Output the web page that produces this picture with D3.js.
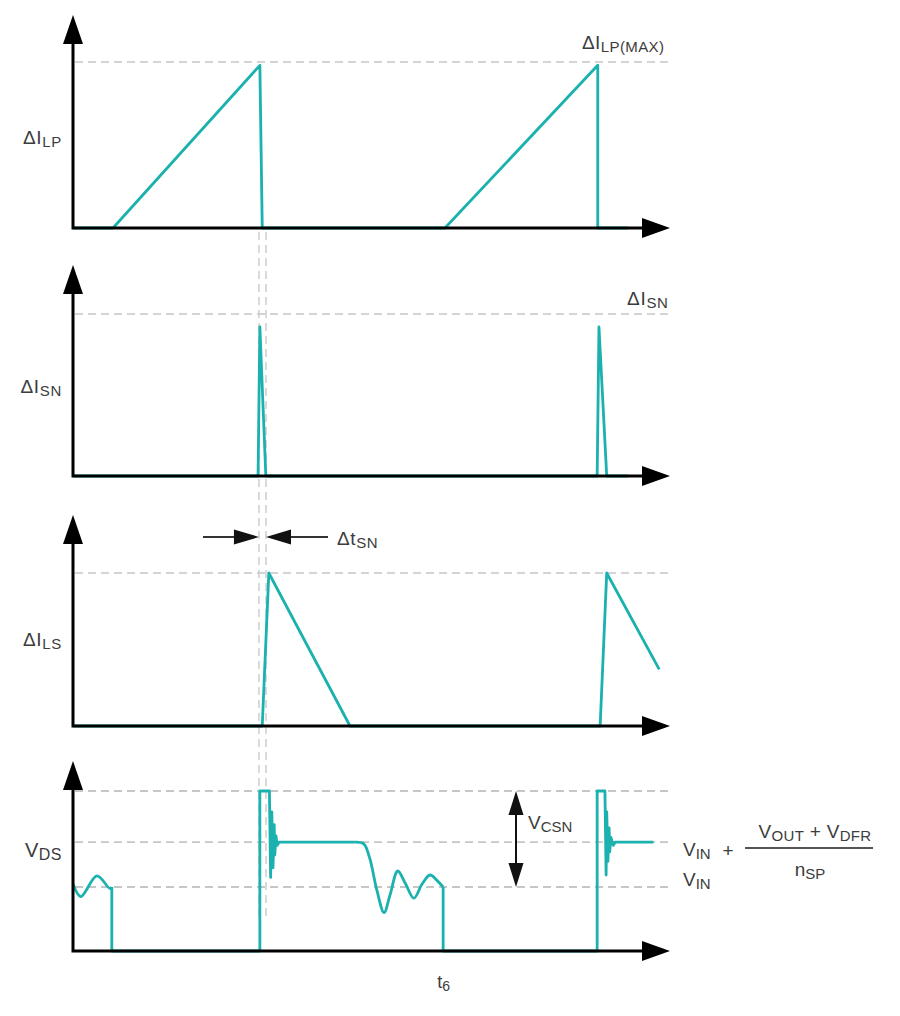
<!DOCTYPE html>
<html>
<head>
<meta charset="utf-8">
<script src="https://cdn.jsdelivr.net/npm/d3@7"></script>
<style>
  html, body { margin: 0; padding: 0; background: #fff; }
  svg { display: block; }
  .lbl { font-family: "Liberation Sans", Arial, sans-serif; fill: #3c3c3c; }
</style>
</head>
<body>
<svg id="chart" width="900" height="1016"></svg>
<script>
// time axis, arbitrary units (one switching period ~5.6)
let timeDomain = [0, 10];

// waveforms as [time, level] with level 1 = the dashed reference of each panel
let ilpWave = [[0, 0], [0.67, 0], [3.13, 0.98], [3.17, 0], [6.23, 0], [8.79, 0.98], [8.79, 0], [9.3, 0]];
let isnWave = [[0, 0], [3.10, 0], [3.13, 0.92], [3.23, 0], [8.78, 0], [8.81, 0.92], [8.94, 0], [9.3, 0]];
let ilsWave = [[0, 0], [3.17, 0], [3.28, 1], [4.64, 0], [8.83, 0], [8.94, 1], [9.82, 0.37]];

// drain voltage, 0.4 = VIN, 0.68 = VIN + reflected, 1 = clamp
let vdsStart = [[0, 0.42], [0.13, 0.34], [0.40, 0.47], [0.62, 0.39], [0.65, 0.40]];
let vdsOff1 = [[0.65, 0.40], [0.65, 0], [3.13, 0], [3.13, 1], [3.29, 1], [3.31, 0.46], [3.33, 0.87],
  [3.35, 0.52], [3.37, 0.79], [3.38, 0.60], [3.40, 0.72], [3.42, 0.66], [3.45, 0.68], [4.72, 0.68]];
let vdsRing = [[4.72, 0.68], [4.87, 0.67], [4.97, 0.58], [5.09, 0.38], [5.21, 0.24], [5.31, 0.35],
  [5.44, 0.50], [5.57, 0.42], [5.71, 0.33], [5.85, 0.42], [5.98, 0.475], [6.10, 0.44], [6.20, 0.40]];
let vdsOff2 = [[6.20, 0.40], [6.20, 0], [8.78, 0], [8.78, 1], [8.91, 1], [8.93, 0.475], [8.94, 0.87],
  [8.96, 0.56], [8.98, 0.77], [8.99, 0.62], [9.01, 0.71], [9.05, 0.66], [9.08, 0.68], [9.72, 0.68]];

let vdsLevels = [0.4, 0.68, 1];
let guideTimes = [3.115, 3.233];
let csnTime = 7.42;
let t6Time = 6.2;

let TEAL = '#1ab1ae';
let DASH = '#c6c6c6';

let svg = d3.select('#chart');
let sx = d3.scaleLinear().domain(timeDomain).range([73, 670]);

let panels = [
  {base: 228, top: 62, tip: 15},
  {base: 476, top: 314, tip: 265},
  {base: 726, top: 573, tip: 515},
  {base: 951, top: 791, tip: 761}
];
panels.forEach(p => { p.sy = d3.scaleLinear().domain([0, 1]).range([p.base, p.top]); });

let gGuides = svg.append('g');
let gWaves = svg.append('g');
let gAxes = svg.append('g');
let gText = svg.append('g');

function dashed(g, x1, y1, x2, y2, w) {
  g.append('line')
    .attr('x1', x1).attr('y1', y1).attr('x2', x2).attr('y2', y2)
    .attr('stroke', DASH).attr('stroke-width', w || 1.6)
    .attr('stroke-dasharray', '8,5');
}

function wave(g, p, pts, curve) {
  let line = d3.line()
    .x(d => sx(d[0]))
    .y(d => p.sy(d[1]))
    .curve(curve || d3.curveLinear);
  g.append('path')
    .datum(pts)
    .attr('d', line)
    .attr('fill', 'none')
    .attr('stroke', TEAL)
    .attr('stroke-width', 2.8)
    .attr('stroke-linejoin', 'round');
}

// arrow head as a triangle with its tip at (x, y)
function head(g, x, y, dir, len, half, color) {
  let pts;
  if (dir == 'up') pts = [[x, y], [x - half, y + len], [x + half, y + len]];
  if (dir == 'down') pts = [[x, y], [x - half, y - len], [x + half, y - len]];
  if (dir == 'right') pts = [[x, y], [x - len, y - half], [x - len, y + half]];
  if (dir == 'left') pts = [[x, y], [x + len, y - half], [x + len, y + half]];
  g.append('path')
    .attr('d', 'M' + pts.map(d => d.join(',')).join('L') + 'Z')
    .attr('fill', color || '#000');
}

function label(x, y, parts, anchor, spacing) {
  let t = gText.append('text')
    .attr('class', 'lbl')
    .attr('x', x).attr('y', y)
    .attr('text-anchor', anchor || 'start')
    .attr('letter-spacing', spacing || 0);
  let shift = 0;
  for (let p of parts) {
    let sub = p[1] == 'sub';
    let dy = (sub ? 3 : 0) - shift;
    shift = sub ? 3 : 0;
    t.append('tspan')
      .attr('dy', dy)
      .attr('font-size', sub ? (p[2] || 14) : (p[2] || 18))
      .text(p[0]);
  }
  return t;
}

// vertical timing guides
guideTimes.forEach(t => dashed(gGuides, sx(t), 232, sx(t), 918, 1.3));

// horizontal reference levels
dashed(gGuides, 75, panels[0].sy(1), 670, panels[0].sy(1), 1.4);
dashed(gGuides, 75, panels[1].sy(1), 670, panels[1].sy(1), 1.4);
dashed(gGuides, 75, panels[2].sy(1), 668, panels[2].sy(1), 1.6);
vdsLevels.forEach(v => dashed(gGuides, 75, panels[3].sy(v), 670, panels[3].sy(v), 1.8));

// waveforms
wave(gWaves, panels[0], ilpWave);
wave(gWaves, panels[1], isnWave);
wave(gWaves, panels[2], ilsWave);
wave(gWaves, panels[3], vdsStart, d3.curveCatmullRom.alpha(0.5));
wave(gWaves, panels[3], vdsOff1);
wave(gWaves, panels[3], vdsRing, d3.curveCatmullRom.alpha(0.5));
wave(gWaves, panels[3], vdsOff2);

// axes
panels.forEach(p => {
  let x0 = sx(timeDomain[0]), x1 = sx(timeDomain[1]);
  gAxes.append('path')
    .attr('d', `M${x0},${p.tip + 20}L${x0},${p.base}L${x1 - 20},${p.base}`)
    .attr('fill', 'none').attr('stroke', '#000').attr('stroke-width', 3);
  head(gAxes, x0, p.tip, 'up', 29, 10);
  head(gAxes, x1, p.base, 'right', 28, 10);
});

// delta t_SN markers
let ay = 537;
let xl = sx(guideTimes[0]), xr = sx(guideTimes[1]);
gAxes.append('line').attr('x1', 203).attr('y1', ay).attr('x2', xl - 20).attr('y2', ay)
  .attr('stroke', '#333').attr('stroke-width', 2);
head(gAxes, xl, ay, 'right', 25, 7.5, '#111');
gAxes.append('line').attr('x1', xr + 20).attr('y1', ay).attr('x2', 328).attr('y2', ay)
  .attr('stroke', '#333').attr('stroke-width', 2);
head(gAxes, xr, ay, 'left', 25, 7.5, '#111');

// V_CSN double arrow
let cx = sx(csnTime);
let yTop = panels[3].sy(vdsLevels[2]), yBot = panels[3].sy(vdsLevels[0]);
gAxes.append('line').attr('x1', cx).attr('y1', yTop + 15).attr('x2', cx).attr('y2', yBot - 15)
  .attr('stroke', '#111').attr('stroke-width', 2);
head(gAxes, cx, yTop, 'up', 24, 7.5, '#111');
head(gAxes, cx, yBot, 'down', 24, 7.5, '#111');

// labels
label(62, 144, [['ΔI', 'main', 19], ['LP', 'sub', 15]], 'end', 0.7);
label(582, 49, [['ΔI', 'main', 19], ['LP(MAX)', 'sub', 15]], 'start', 0.4);
label(62, 393, [['ΔI', 'main', 19], ['SN', 'sub', 15]], 'end', 0.7);
label(627, 305, [['ΔI', 'main', 19], ['SN', 'sub', 15]], 'start', 0.7);
label(62, 646, [['ΔI', 'main', 19], ['LS', 'sub', 15]], 'end', 0.7);
label(337, 545, [['Δt', 'main', 19], ['SN', 'sub', 15]], 'start', 0.6);
label(62, 857, [['V', 'main', 20], ['DS', 'sub', 16]], 'end', 0.5);
label(sx(t6Time) - 6, 988, [['t', 'main', 18], ['6', 'sub', 14]]);
label(528, 829, [['V', 'main', 19], ['CSN', 'sub', 15]]);
label(683, 856, [['V', 'main', 19], ['IN', 'sub', 15]]);
label(728, 857, [['+', 'main', 19]], 'middle');
label(683, 886, [['V', 'main', 19], ['IN', 'sub', 15]]);
label(815, 838, [['V', 'main', 19], ['OUT', 'sub', 15], [' + V', 'main', 19], ['DFR', 'sub', 15]], 'middle', 0.3);
label(810, 876, [['n', 'main', 19], ['SP', 'sub', 15]], 'middle');
gAxes.append('line').attr('x1', 745).attr('y1', 848).attr('x2', 873).attr('y2', 848)
  .attr('stroke', '#555').attr('stroke-width', 2);
</script>
</body>
</html>
